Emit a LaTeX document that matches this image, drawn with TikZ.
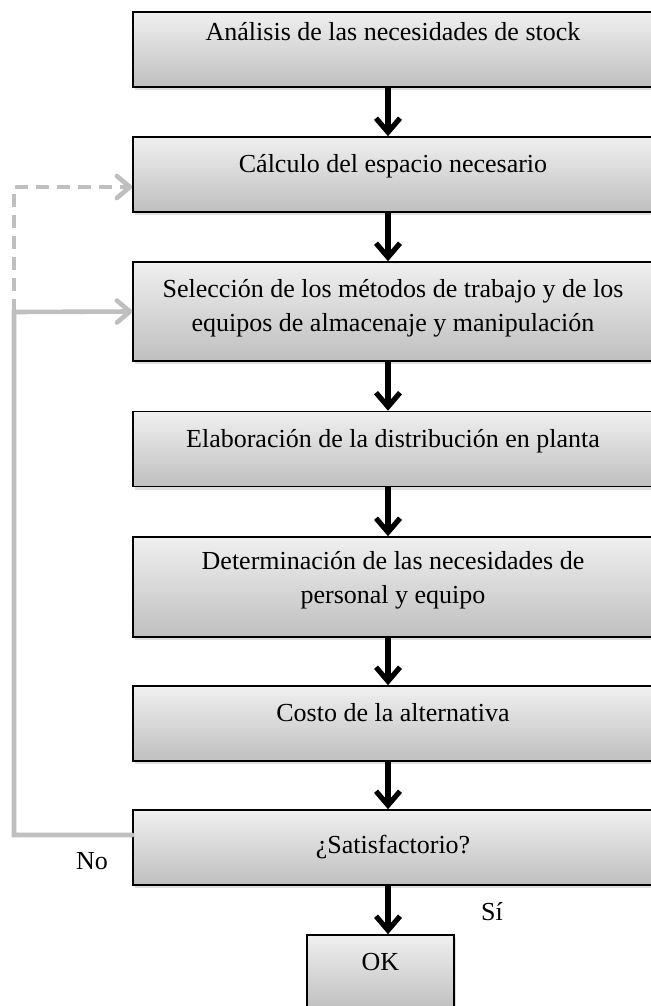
\documentclass[tikz,border=0pt]{standalone}
\usepackage{fontspec}
\setmainfont{Liberation Serif}
\usepackage{tikz}
\usetikzlibrary{arrows.meta,shadows}

\begin{document}
\begin{tikzpicture}[x=0.5pt,y=-0.5pt,
  proc/.style={draw,line width=0.8pt,top color=black!6,bottom color=black!25,
               drop shadow={shadow xshift=1pt,shadow yshift=-1.5pt,opacity=0.25},
               minimum width=260pt,minimum height=37.5pt,align=center,
               font=\fontsize{13}{17}\selectfont,text depth=11pt},
  arr/.style={-{Straight Barb[length=7pt,width=12pt]},line width=2.6pt},
  fb/.style={-{Straight Barb[length=6.5pt,width=11pt,round]},line width=2.3pt,black!25,line cap=round},
  lbl/.style={font=\fontsize{13}{17}\selectfont}]
  \useasboundingbox (0,0) rectangle (650,1006);
  \node[proc,text depth=18pt] (b1) at (393,49.5) {Análisis de las necesidades de stock};
  \node[proc] (b2) at (393,174.5) {Cálculo del espacio necesario};
  \node[proc,minimum height=49.5pt,text depth=6pt] (b3) at (393,311.5) {Selección de los métodos de trabajo y de los\\equipos de almacenaje y manipulación};
  \node[proc] (b4) at (393,449) {Elaboración de la distribución en planta};
  \node[proc,minimum height=50pt,text depth=10pt] (b5) at (393,587) {Determinación de las necesidades de\\personal y equipo};
  \node[proc] (b6) at (393,723.5) {Costo de la alternativa};
  \node[proc,text depth=3pt] (b7) at (393,847.5) {¿Satisfactorio?};
  \node[proc,minimum width=73.5pt] (ok) at (380.5,972.5) {OK};
  \node[lbl] (no) at (92,861) {No};
  \node[lbl] (si) at (492,912) {Sí};
  \coordinate (loop) at (14,312);

  \draw[arr] ([xshift=-2.5pt]b1.south) -- ([xshift=-2.5pt]b2.north);
  \draw[arr] ([xshift=-2.5pt]b2.south) -- ([xshift=-2.5pt]b3.north);
  \draw[arr] ([xshift=-2.5pt]b3.south) -- ([xshift=-2.5pt]b4.north);
  \draw[arr] ([xshift=-2.5pt]b4.south) -- ([xshift=-2.5pt]b5.north);
  \draw[arr] ([xshift=-2.5pt]b5.south) -- ([xshift=-2.5pt]b6.north);
  \draw[arr] ([xshift=-2.5pt]b6.south) -- ([xshift=-2.5pt]b7.north);
  \draw[arr] ([xshift=-2.5pt]b7.south) -- ([xshift=-2.5pt]b7.south |- ok.north);
  \draw[fb] ([yshift=6.25pt]b7.west) -| (loop) -- (b3.west);
  \draw[fb,dash pattern=on 6.5pt off 4pt,line cap=butt] (loop) |- ([yshift=-6.25pt]b2.west);
\end{tikzpicture}
\end{document}
